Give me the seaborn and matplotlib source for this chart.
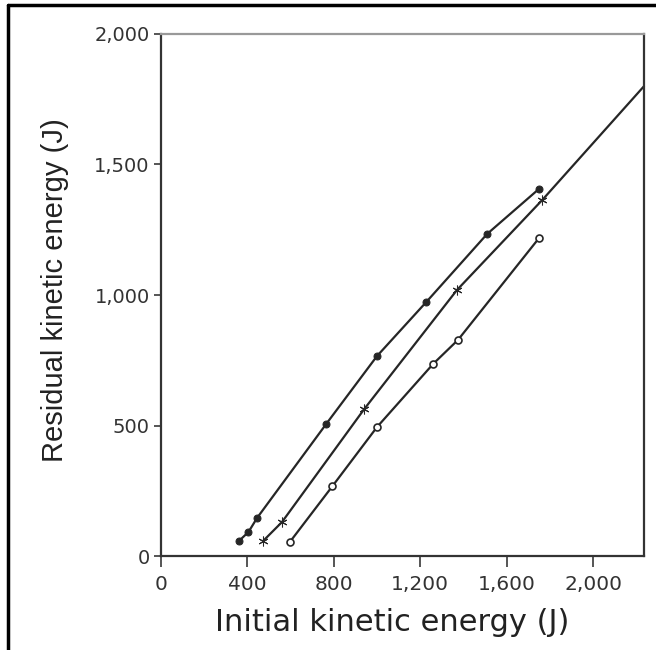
import pandas as pd
import numpy as np
import matplotlib.pyplot as plt
import seaborn as sns
from matplotlib.lines import Line2D
from matplotlib.ticker import FuncFormatter

# values
filled_x = [360, 405, 445, 765, 1000, 1228, 1510, 1752]
filled_y = [57, 92, 146, 506, 766, 973, 1234, 1408]
star_x = [472, 560, 940, 1370, 1765, 2236]
star_y = [57, 130, 562, 1019, 1364, 1800]
open_x = [595, 794, 1000, 1260, 1375, 1750]
open_y = [52, 268, 494, 736, 828, 1218]

x_ticks = [0, 400, 800, 1200, 1600, 2000]
y_ticks = [0, 500, 1000, 1500, 2000]

df_filled = pd.DataFrame({'x': filled_x, 'y': filled_y})
df_star = pd.DataFrame({'x': star_x, 'y': star_y})
df_open = pd.DataFrame({'x': open_x, 'y': open_y})

sns.set_style('white')
plt.rcParams['font.family'] = ['DejaVu Sans']

fig = plt.figure(figsize=(6.56, 6.5), dpi=100)
ax = fig.add_axes([0.2454, 0.1446, 0.7363, 0.8031])

line_c = '#262626'
sns.lineplot(data=df_filled, x='x', y='y', ax=ax, sort=False, color=line_c, linewidth=1.6,
             marker='o', markersize=5, markerfacecolor=line_c, markeredgecolor=line_c)
sns.lineplot(data=df_star, x='x', y='y', ax=ax, sort=False, color=line_c, linewidth=1.6,
             marker=(6, 2, 0), markersize=7, markeredgecolor=line_c, markevery=[0, 1, 2, 3, 4],
             clip_on=False)
sns.lineplot(data=df_open, x='x', y='y', ax=ax, sort=False, color=line_c, linewidth=1.6,
             marker='o', markersize=5, markerfacecolor='white', markeredgecolor=line_c,
             markeredgewidth=1.2)

ax.set_xlim(0, 2236)
ax.set_ylim(0, 2000)
ax.set_xticks(x_ticks)
ax.set_yticks(y_ticks)
fmt = FuncFormatter(lambda v, p: f'{int(v):,}')
ax.xaxis.set_major_formatter(fmt)
ax.yaxis.set_major_formatter(fmt)

for s in ['left', 'bottom', 'right']:
    ax.spines[s].set_color('#333333')
    ax.spines[s].set_linewidth(1.6)
ax.spines['top'].set_color('#999999')
ax.spines['top'].set_linewidth(1.6)

ax.tick_params(axis='x', direction='out', length=8, width=1.4, color='#555555',
               labelsize=14.5, pad=6, bottom=True)
ax.tick_params(axis='y', direction='out', length=5, width=1.4, color='#555555',
               labelsize=14, pad=3, left=True)
for t in ax.get_xticklabels() + ax.get_yticklabels():
    t.set_color('#333333')

ax.set_xlabel('Initial kinetic energy (J)', fontsize=22, color='#222222')
ax.set_ylabel('Residual kinetic energy (J)', fontsize=21, color='#222222',
              family='Liberation Sans')
ax.xaxis.set_label_coords(0.478, -0.100)
ax.yaxis.set_label_coords(-0.190, 0.51)

# outer border of the scanned figure
fig.add_artist(Line2D([8 / 656, 8 / 656], [0, 1 - 5 / 650], transform=fig.transFigure,
                      color='black', linewidth=2.5))
fig.add_artist(Line2D([8 / 656, 1], [1 - 5 / 650, 1 - 5 / 650], transform=fig.transFigure,
                      color='black', linewidth=2.5))

plt.savefig('out.png', dpi=100)
plt.close()
